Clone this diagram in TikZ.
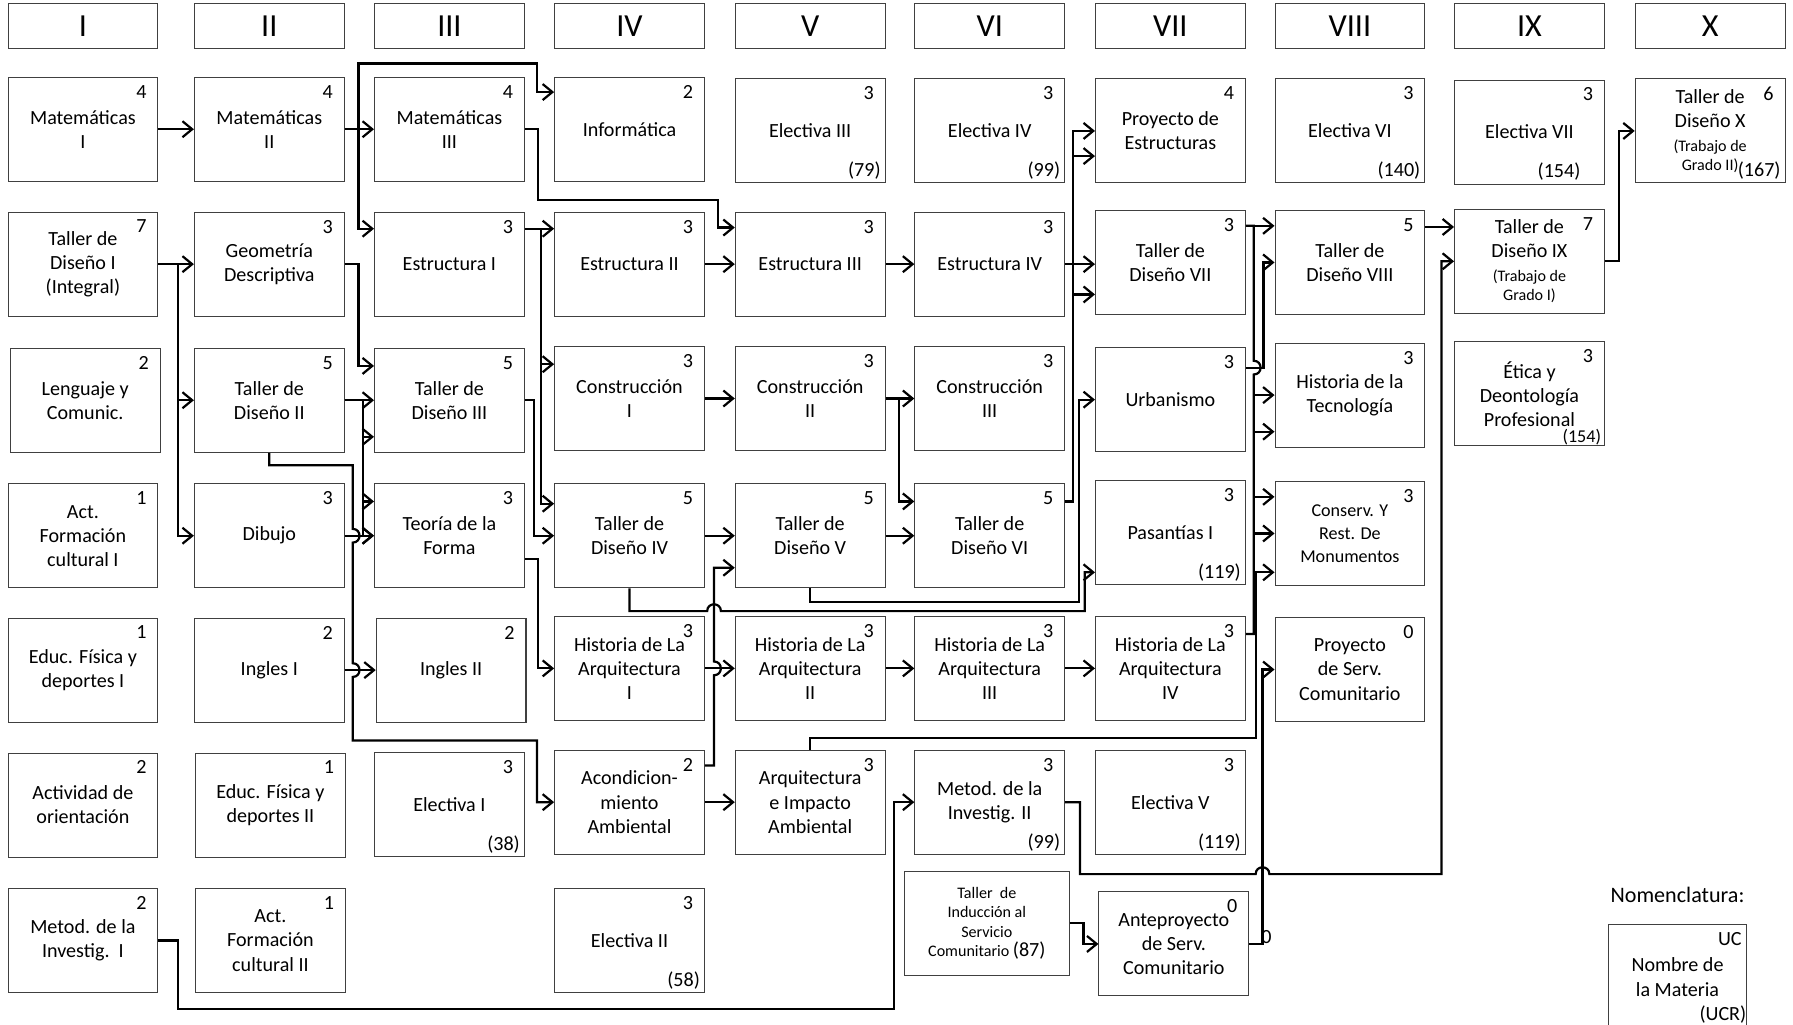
\documentclass[tikz,border=0pt]{standalone}
\usepackage{fontspec}
\setmainfont{Carlito}
\usetikzlibrary{arrows.meta,calc}

\newcommand{\chico}{\fontsize{8}{9.5}\selectfont}

\tikzset{
  materia/.style={draw=black!75, line width=0.5pt, minimum width=2.62cm,
                  minimum height=1.82cm, align=center, inner sep=1pt},
  semestre/.style={draw=black!75, line width=0.5pt, minimum width=2.62cm,
                   minimum height=0.78cm, inner sep=0pt,
                   font=\fontsize{16}{19}\selectfont},
  credito/.style={anchor=north east, inner sep=0pt, xshift=-0.2cm, yshift=-0.14cm},
  creditor/.style={anchor=south east, inner sep=0pt, xshift=-0.08cm, yshift=0.06cm},
  uc/.style={label={[credito]north east:#1}},
  ucr/.style={label={[creditor]south east:#1}},
  linea/.style={line width=1.1pt},
  prela/.style={linea, ->},
  hopR/.style={out=0, in=0, looseness=1.7},
  hopU/.style={out=90, in=90, looseness=1.7},
}

\begin{document}
\begin{tikzpicture}[x=0.02cm, y=-0.02cm, >={Straight Barb[length=1.7mm,width=2.8mm]}]
\useasboundingbox (0,0) rectangle (1568,896);
\clip (0,0) rectangle (1568,896);

% los semestres
\foreach \x/\s in {72.5/I, 235.5/II, 393/III, 550.5/IV, 708.5/V, 865.5/VI,
                   1023.5/VII, 1180.5/VIII, 1337.5/IX, 1495.5/X}
  \node[semestre] (sem\s) at (\x,22.5) {\s};

% las materias
\node[materia, uc=4] (mat1) at (72.5,113) {Matemáticas\\I};
\node[materia, uc=7] (td1)  at (72.5,231) {Taller de\\Diseño I\\(Integral)};
\node[materia, uc=2] (len)  at (74.5,350) {Lenguaje y\\Comunic.};
\node[materia, uc=1] (afc1) at (72.5,468.5) {Act.\\Formación\\cultural I};
\node[materia, uc=1] (efd1) at (72.5,586) {Educ. Física y\\deportes I};
\node[materia, uc=2] (aor)  at (72.5,704) {Actividad de\\orientación};
\node[materia, uc=2] (mi1)  at (72.5,822.5) {Metod. de la\\Investig.\ \ I};

\node[materia, uc=4] (mat2) at (235.5,113) {Matemáticas\\II};
\node[materia, uc=3] (geo)  at (235.5,231) {Geometría\\Descriptiva};
\node[materia, uc=5] (td2)  at (235.5,350) {Taller de\\Diseño II};
\node[materia, uc=3] (dib)  at (235.5,468.5) {Dibujo};
\node[materia, uc=2] (ing1) at (235.5,586) {Ingles I};
\node[materia, uc=1] (efd2) at (236.5,704) {Educ. Física y\\deportes II};
\node[materia, uc=1] (afc2) at (236.5,822.5) {Act.\\Formación\\cultural II};

\node[materia, uc=4] (mat3) at (393,113) {Matemáticas\\III};
\node[materia, uc=3] (est1) at (393,231) {Estructura I};
\node[materia, uc=5] (td3)  at (393,350) {Taller de\\Diseño III};
\node[materia, uc=3] (tfo)  at (393,468.5) {Teoría de la\\Forma};
\node[materia, uc=2] (ing2) at (394.5,586) {Ingles II};
\node[materia, uc=3, ucr=(38)] (ele1) at (393,703.5) {Electiva I};

\node[materia, uc=2] (inf)  at (550.5,113.5) {Informática};
\node[materia, uc=3] (est2) at (550.5,231) {Estructura II};
\node[materia, uc=3] (con1) at (550.5,348.5) {Construcción\\I};
\node[materia, uc=5] (td4)  at (550.5,468.5) {Taller de\\Diseño IV};
\node[materia, uc=3] (ha1)  at (550.5,584.5) {Historia de La\\Arquitectura\\I};
\node[materia, uc=2] (aca)  at (550.5,701.5) {Acondicion-\\miento\\Ambiental};
\node[materia, uc=3, ucr=(58)] (ele2) at (550.5,822.5) {Electiva II};

\node[materia, uc=3, ucr=(79)] (ele3) at (708.5,114.5) {Electiva III};
\node[materia, uc=3] (est3) at (708.5,231) {Estructura III};
\node[materia, uc=3] (con2) at (708.5,348.5) {Construcción\\II};
\node[materia, uc=5] (td5)  at (708.5,468.5) {Taller de\\Diseño V};
\node[materia, uc=3] (ha2)  at (708.5,584.5) {Historia de La\\Arquitectura\\II};
\node[materia, uc=3] (aia)  at (708.5,701.5) {Arquitectura\\e Impacto\\Ambiental};

\node[materia, uc=3, ucr=(99)] (ele4) at (865.5,114.5) {Electiva IV};
\node[materia, uc=3] (est4) at (865.5,231) {Estructura IV};
\node[materia, uc=3] (con3) at (865.5,348.5) {Construcción\\III};
\node[materia, uc=5] (td6)  at (865.5,468.5) {Taller de\\Diseño VI};
\node[materia, uc=3] (ha3)  at (865.5,584.5) {Historia de La\\Arquitectura\\III};
\node[materia, uc=3, ucr=(99)] (mi2) at (865.5,701.5) {Metod. de la\\Investig. II};
\node[materia, minimum width=2.88cm, font=\fontsize{8}{9.6}\selectfont] (tis) at (863,807.5)
  {Taller\ \ de\\Inducción al\\Servicio\\Comunitario \normalsize(87)};

\node[materia, uc=4] (pes)  at (1023.5,114.5) {Proyecto de\\Estructuras};
\node[materia, uc=3] (td7)  at (1023.5,229.5) {Taller de\\Diseño VII};
\node[materia, uc=3] (urb)  at (1023.5,349.5) {Urbanismo};
\node[materia, uc=3, ucr=(119)] (pas) at (1023.5,465.5) {Pasantías I};
\node[materia, uc=3] (ha4)  at (1023.5,584.5) {Historia de La\\Arquitectura\\IV};
\node[materia, uc=3, ucr=(119)] (ele5) at (1023.5,701.5) {Electiva V};
\node[materia, uc=0] (aps)  at (1026.5,825.5) {Anteproyecto\\de Serv.\\Comunitario};

\node[materia, uc=3, ucr=(140)] (ele6) at (1180.5,114.5) {Electiva VI};
\node[materia, uc=5] (td8)  at (1180.5,229.5) {Taller de\\Diseño VIII};
\node[materia, uc=3] (hte)  at (1180.5,345.5) {Historia de la\\Tecnología};
\node[materia, uc=3, font=\fontsize{9}{11.5}\selectfont] (crm) at (1180.5,466.5)
  {Conserv. Y\\Rest. De\\Monumentos};
\node[materia, uc=0] (psc)  at (1180.5,585.5) {Proyecto\\de Serv.\\Comunitario};

\node[materia, uc=3, label={[creditor, xshift=-0.34cm]south east:(154)}] (ele7)
  at (1337.5,115.5) {Electiva VII};
\node[materia, uc=7] (td9)  at (1337.5,228.5)
  {Taller de\\Diseño IX\\\chico (Trabajo de\\[-2.5pt]\chico Grado I)};
\node[materia, uc=3, label={[creditor, xshift=0.02cm, yshift=-0.05cm,
      font=\fontsize{9}{11}\selectfont]south east:(154)}] (eti) at (1337.5,344.5)
  {Ética y\\Deontología\\Profesional};

\node[materia, uc=6, ucr=(167)] (td10) at (1495.5,114.5)
  {Taller de\\Diseño X\\\chico (Trabajo de\\[-2.5pt]\chico Grado II)};

% nomenclatura
\node[font=\fontsize{11}{13}\selectfont] (nomtit) at (1467,783) {Nomenclatura:};
\node[materia, minimum width=2.4cm, minimum height=1.84cm, anchor=north,
      label={[credito, xshift=0.12cm]north east:UC},
      label={[creditor, xshift=0.08cm, yshift=0.06cm]south east:(UCR)}] (nom) at (1467,808)
  {Nombre de\\la Materia};

% las prelaciones
\draw[prela] (mat1.east) -- (mat2.west);
\draw[prela] (mat2.east) -- (mat3.west);
\draw[prela] (mat2.east) -- ++(12,0) |- ($(inf.west)+(-15,-58)$) |- ($(inf.west)+(0,-33)$);
\draw[prela] (mat2.east) -- ++(12,0) |- ($(est1.west)+(0,-31)$);
\draw[prela] (mat3.east) -- ++(11.5,0) |- ($(est3.west)+(-15,-56)$) |- ($(est3.west)+(0,-32)$);

\draw[prela] ($(est1.east)+(0,-31)$) -- ($(est2.west)+(0,-31)$);
\draw[prela] ($(est1.east)+(0,-31)$) -- ++(14,0) |- ($(con1.west)+(0,-30)$);
\draw[prela] ($(est1.east)+(0,-31)$) -- ++(14,0) |- ($(td4.west)+(0,-28)$);
\draw[prela] (est2.east) -- (est3.west);
\draw[prela] (est3.east) -- (est4.west);
\draw[prela] (est4.east) -- (est4.east -| td7.west);
\draw[prela] ($(td6.east)+(0,-30)$) -- ++(7,0) |- (pes.west);
\draw[prela] ($(td6.east)+(0,-30)$) -- ++(7,0) |- ($(pes.west)+(0,22)$);
\draw[prela] ($(td6.east)+(0,-30)$) -- ++(7,0) |- ($(td7.west)+(0,28)$);

\draw[prela] (td1.east) -- (geo.west);
\draw[prela] (td1.east) -- ++(17,0) |- (td2.west);
\draw[prela] (td1.east) -- ++(17,0) |- (dib.west);
\draw[prela] (geo.east) -- ++(12,0) |- ($(td3.west)+(0,-30)$);
\draw[prela] (td2.east) -- (td3.west);
\draw[prela] (td2.east) -- ++(16,0) |- ($(td3.west)+(0,32)$);
\draw[prela] (td2.east) -- ++(16,0) |- ($(tfo.west)+(0,-30)$);
\draw[prela] (td2.east) -- ++(16,0) |- (tfo.west);
\draw[prela] (dib.east) -- (tfo.west);
\draw[prela] (ing1.east) -- (ing2.west);
\draw[prela] (td2.south) -- ++(0,11) -| ($(dib.east)+(7,-6)$) to[hopR] ($(dib.east)+(7,6)$)
  -- ($(ing1.east)+(7,-6)$) to[hopR] ($(ing1.east)+(7,6)$)
  |- ($(aca.north west)+(-15,-8)$) |- (aca.west);

\draw[prela] (td3.east) -- ++(8,0) |- (td4.west);
\draw[prela] ($(tfo.east)+(0,20)$) -- ++(11.5,0) |- (ha1.west);
\draw[prela] (td4.east) -- (td5.west);
\draw[prela] (td5.east) -- (td6.west);
\draw[prela] ($(aca.east)+(0,-32)$) -| ($(ha1.east)+(8,6)$) to[hopR] ($(ha1.east)+(8,-6)$)
  |- ($(td5.west)+(0,28)$);
\draw[prela] (td4.south) -- ++(0,20) -- ($(ha1.east |- td4.south)+(2,20)$)
  to[hopU] ($(ha1.east |- td4.south)+(14,20)$) -| ($(pas.west)+(-9,35)$) -- ($(pas.west)+(0,35)$);
\draw[prela] (td5.south) -- ++(0,12) -| ($(urb.west)+(-14,0)$) -- (urb.west);

\draw[prela] (con1.east) -- (con2.west);
\draw[prela] (con2.east) -- (con3.west);
\draw[prela] (con2.east) -- ++(12,0) |- ($(td6.west)+(0,-30)$);

\draw[prela] (ha1.east) -- (ha2.west);
\draw[prela] (ha2.east) -- (ha3.west);
\draw[prela] (ha3.east) -- (ha4.west);
\draw[prela] (aca.east) -- (aia.west);

\draw[prela] ($(td7.east)+(0,-32)$) -- ($(td8.west)+(0,-32)$);
\draw[linea] ($(ha4.east)+(0,-30)$) -| ($(urb.east)+(7,-22)$) to[hopR] ($(urb.east)+(7,-34)$)
  |- ($(td7.east)+(0,-32)$);
\draw[prela] ($(ha4.east)+(7,-30)$) |- (hte.west);
\draw[prela] ($(ha4.east)+(7,-30)$) |- ($(hte.west)+(0,32)$);
\draw[prela] ($(ha4.east)+(7,-30)$) |- ($(crm.west)+(0,-32)$);
\draw[prela] ($(ha4.east)+(7,-30)$) |- (crm.west);
\draw[prela] ($(urb.east)+(0,-28)$) -- ++(15.5,0) |- (td8.west);
\draw[prela] (aia.north) -- ++(0,-10) -| ($(crm.west)+(-16,34)$) -- ($(crm.west)+(0,34)$);
\draw[prela] (aps.east) -| ($(psc.west)+(-10.5,0)$) -- (psc.west);
\node[inner sep=0pt] (cero) at ($(aps.east)+(15,-6)$) {0};

\draw[prela] (mi2.east) -- ++(13,0) |- ($(psc.west |- ele5.south)+(-16.5,17)$)
  to[hopU] ($(psc.west |- ele5.south)+(-4.5,17)$) -| ($(td9.west)+(-11,0)$) -- (td9.west);
\draw[prela] ($(td8.east)+(0,-31)$) -- ($(td8.east -| td9.west)+(0,-31)$);
\draw[prela] (td9.east) -- ++(12.5,0) |- (td10.west);

\draw[prela] (mi1.east) -| ($(afc2.south west)+(-15,14)$) -| ($(mi2.west)+(-18,0)$) -- (mi2.west);
\draw[prela] (tis.east) -| ($(aps.west)+(-13,0)$) -- (aps.west);

\end{tikzpicture}
\end{document}
